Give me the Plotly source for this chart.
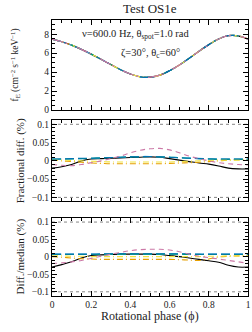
import plotly.graph_objects as go

# ---------------- data ----------------
phase = [0.00, 0.05, 0.10, 0.15, 0.20, 0.25, 0.30, 0.35, 0.40, 0.45, 0.50,
         0.55, 0.60, 0.65, 0.70, 0.75, 0.80, 0.85, 0.90, 0.95, 1.00]

flux = [7.48, 7.20, 6.85, 6.40, 5.90, 5.35, 4.80, 4.25, 3.80, 3.50, 3.46,
        3.68, 4.15, 4.75, 5.45, 6.20, 6.90, 7.50, 7.85, 7.82, 7.48]

codes = ["black", "orange", "skyblue", "green", "yellow", "blue", "pink"]

frac_black = [-0.020, -0.016, -0.010, 0.000, 0.005, 0.006, 0.007, 0.008, 0.009, 0.010, 0.011,
              0.010, 0.006, 0.002, -0.002, -0.006, -0.009, -0.014, -0.020, -0.022, -0.022]
frac_orange = [0.002, 0.000, -0.002, -0.004, -0.006, -0.007, -0.008, -0.008, -0.008, -0.008, -0.008,
               -0.008, -0.007, -0.006, -0.005, -0.004, -0.002, 0.000, 0.002, 0.003, 0.003]
frac_skyblue = [0.005, 0.005, 0.006, 0.006, 0.007, 0.008, 0.009, 0.010, 0.011, 0.012, 0.012,
                0.011, 0.010, 0.009, 0.008, 0.007, 0.006, 0.005, 0.005, 0.005, 0.005]
frac_green = [0.004, 0.005, 0.005, 0.006, 0.007, 0.008, 0.009, 0.010, 0.011, 0.011, 0.012,
              0.011, 0.010, 0.009, 0.007, 0.006, 0.005, 0.004, 0.004, 0.004, 0.004]
frac_yellow = [0.002, 0.002, 0.001, 0.000, -0.001, -0.002, -0.003, -0.003, -0.003, -0.003, -0.003,
               -0.003, -0.003, -0.002, -0.001, 0.000, 0.001, 0.002, 0.002, 0.002, 0.002]
frac_blue = [0.005, 0.005, 0.006, 0.007, 0.007, 0.008, 0.009, 0.010, 0.011, 0.011, 0.012,
             0.011, 0.010, 0.008, 0.007, 0.006, 0.005, 0.005, 0.005, 0.005, 0.005]
frac_pink = [-0.010, -0.012, -0.013, -0.010, -0.005, 0.000, 0.006, 0.013, 0.022, 0.029, 0.033,
             0.034, 0.030, 0.022, 0.013, 0.006, 0.000, -0.005, -0.008, -0.010, -0.011]

med_black = [-0.029, -0.022, -0.014, -0.003, 0.004, 0.006, 0.007, 0.008, 0.008, 0.008, 0.008,
             0.007, 0.004, 0.001, -0.003, -0.007, -0.011, -0.015, -0.024, -0.029, -0.029]
med_orange = [0.001, -0.001, -0.003, -0.005, -0.006, -0.007, -0.007, -0.007, -0.007, -0.007, -0.007,
              -0.007, -0.007, -0.008, -0.009, -0.010, -0.006, 0.000, 0.002, 0.003, 0.003]
med_skyblue = [0.008, 0.008, 0.008, 0.008, 0.008, 0.008, 0.008, 0.008, 0.008, 0.008, 0.008,
               0.008, 0.008, 0.008, 0.008, 0.008, 0.008, 0.008, 0.008, 0.008, 0.008]
med_green = [0.007, 0.007, 0.007, 0.007, 0.007, 0.007, 0.008, 0.008, 0.008, 0.008, 0.008,
             0.008, 0.008, 0.008, 0.007, 0.007, 0.007, 0.007, 0.007, 0.007, 0.007]
med_yellow = [0.003, 0.003, 0.002, 0.002, 0.001, 0.001, 0.001, 0.001, 0.001, 0.001, 0.001,
              0.001, 0.001, 0.001, 0.001, 0.001, 0.002, 0.002, 0.003, 0.003, 0.003]
med_blue = [0.008, 0.008, 0.008, 0.008, 0.008, 0.009, 0.009, 0.009, 0.009, 0.009, 0.009,
            0.009, 0.009, 0.009, 0.009, 0.008, 0.008, 0.008, 0.008, 0.008, 0.008]
med_pink = [-0.019, -0.017, -0.014, -0.010, -0.004, 0.002, 0.008, 0.013, 0.018, 0.021, 0.022,
            0.022, 0.020, 0.015, 0.008, 0.002, -0.002, -0.006, -0.010, -0.014, -0.018]

tolerance = [0.1, -0.1]

x_ticks = [0, 0.2, 0.4, 0.6, 0.8, 1]
x_ticktext = ["0", "0.2", "0.4", "0.6", "0.8", "1"]
flux_ticks = [0, 2, 4, 6, 8]
diff_ticks = [-0.1, -0.05, 0, 0.05, 0.1]
diff_ticktext = ["\u22120.1", "\u22120.05", "0", "0.05", "0.1"]

# ---------------- styles ----------------
colors = {"black": "#000000", "orange": "#E69F00", "skyblue": "#56B4E9",
          "green": "#009E73", "yellow": "#F0E442", "blue": "#0072B2", "pink": "#CC79A7"}
dashes = {"black": "solid", "orange": "6px,3px,1px,3px", "skyblue": "9px,4px",
          "green": "9px,4px", "yellow": "6px,3px,1px,3px", "blue": "9px,4px", "pink": "5px,4px"}
frac = {"black": frac_black, "orange": frac_orange, "skyblue": frac_skyblue, "green": frac_green,
        "yellow": frac_yellow, "blue": frac_blue, "pink": frac_pink}
med = {"black": med_black, "orange": med_orange, "skyblue": med_skyblue, "green": med_green,
       "yellow": med_yellow, "blue": med_blue, "pink": med_pink}

FONT = "Liberation Serif"
TXT = "#222222"
fig = go.Figure()

# top panel: the flux curves of every code overlap
for i, c in enumerate(codes):
    dash = "solid" if i == 0 else f"{2*i}px,2px,2px,10px"
    fig.add_trace(go.Scatter(x=phase, y=flux, mode="lines", xaxis="x", yaxis="y",
                             line=dict(color=colors[c], width=1.2, dash=dash, shape="spline"),
                             showlegend=False, hoverinfo="skip"))

for c in codes:
    fig.add_trace(go.Scatter(x=phase, y=frac[c], mode="lines", xaxis="x2", yaxis="y2",
                             line=dict(color=colors[c], width=1.1, dash=dashes[c], shape="spline"),
                             showlegend=False, hoverinfo="skip"))
    fig.add_trace(go.Scatter(x=phase, y=med[c], mode="lines", xaxis="x3", yaxis="y3",
                             line=dict(color=colors[c], width=1.1, dash=dashes[c], shape="spline"),
                             showlegend=False, hoverinfo="skip"))

for yref in ["y2", "y3"]:
    for t in tolerance:
        fig.add_shape(type="line", xref="paper", yref=yref, x0=0, x1=1, y0=t, y1=t,
                      line=dict(color="#888888", width=1, dash="dot"), layer="below")

tickfont = dict(family=FONT, size=9.5, color=TXT)
common_x = dict(range=[0, 1], showgrid=False, zeroline=False, showline=True, linecolor="black",
                linewidth=1, mirror="allticks", ticks="inside", ticklen=5, tickcolor="black",
                tickvals=x_ticks, ticktext=x_ticktext, tickfont=tickfont, automargin=False,
                minor=dict(ticks="inside", dtick=0.05, ticklen=3, tickcolor="black"))
common_y = dict(showgrid=False, zeroline=False, showline=True, linecolor="black", linewidth=1,
                mirror="allticks", ticks="inside", ticklen=5, tickcolor="black", tickfont=tickfont,
                automargin=False)

fig.update_layout(
    width=252, height=332, margin=dict(l=52, r=4, t=20, b=36, autoexpand=False),
    paper_bgcolor="white", plot_bgcolor="white",
    xaxis=dict(common_x, anchor="y", showticklabels=False),
    xaxis2=dict(common_x, anchor="y2", showticklabels=False),
    xaxis3=dict(common_x, anchor="y3", showticklabels=True),
    yaxis=dict(common_y, domain=[0.674, 1.0], range=[0, 9.5], tickvals=flux_ticks,
               minor=dict(ticks="inside", dtick=0.5, ticklen=3, tickcolor="black")),
    yaxis2=dict(common_y, domain=[0.344, 0.638], range=[-0.11, 0.112], tickvals=diff_ticks,
                ticktext=diff_ticktext,
                minor=dict(ticks="inside", dtick=0.01, ticklen=3, tickcolor="black")),
    yaxis3=dict(common_y, domain=[0.0, 0.283], range=[-0.112, 0.112], tickvals=diff_ticks,
                ticktext=diff_ticktext,
                minor=dict(ticks="inside", dtick=0.01, ticklen=3, tickcolor="black")),
)

ann_font = dict(family=FONT, size=11, color=TXT)
fig.add_annotation(text="Test OS1e", xref="paper", yref="paper", x=0.5, y=1.0, yshift=2,
                   yanchor="bottom", showarrow=False, font=dict(family=FONT, size=13, color=TXT))
fig.add_annotation(text="\u03bd=600.0 Hz, \u03b8<sub>spot</sub>=1.0 rad", xref="x", yref="y",
                   x=0.43, y=8.0, showarrow=False, font=dict(family=FONT, size=10.5, color=TXT))
fig.add_annotation(text="\u03b6=30\u00b0, \u03b8<sub>c</sub>=60\u00b0", xref="x", yref="y",
                   x=0.5, y=6.0, showarrow=False, font=dict(family=FONT, size=10.5, color=TXT))
fig.add_annotation(text="Rotational phase (\u03d5)", xref="paper", yref="paper", x=0.5, y=0,
                   yshift=-11, yanchor="top", showarrow=False,
                   font=dict(family=FONT, size=12, color=TXT))
fig.add_annotation(text="f<sub>E</sub> (cm<sup>\u22122</sup> s<sup>\u22121</sup> keV<sup>\u22121</sup>)",
                   xref="paper", yref="y", x=0, xshift=-45, y=4.75, textangle=-90, showarrow=False,
                   font=dict(family=FONT, size=9.5, color=TXT))
fig.add_annotation(text="Fractional diff. (%)", xref="paper", yref="y2", x=0, xshift=-40, y=0,
                   textangle=-90, showarrow=False, font=ann_font)
fig.add_annotation(text="Diff./median (%)", xref="paper", yref="y3", x=0, xshift=-40, y=0,
                   textangle=-90, showarrow=False, font=ann_font)

fig.write_html("out.html", config={"displayModeBar": False},
               post_script="document.body.style.margin='0';")
